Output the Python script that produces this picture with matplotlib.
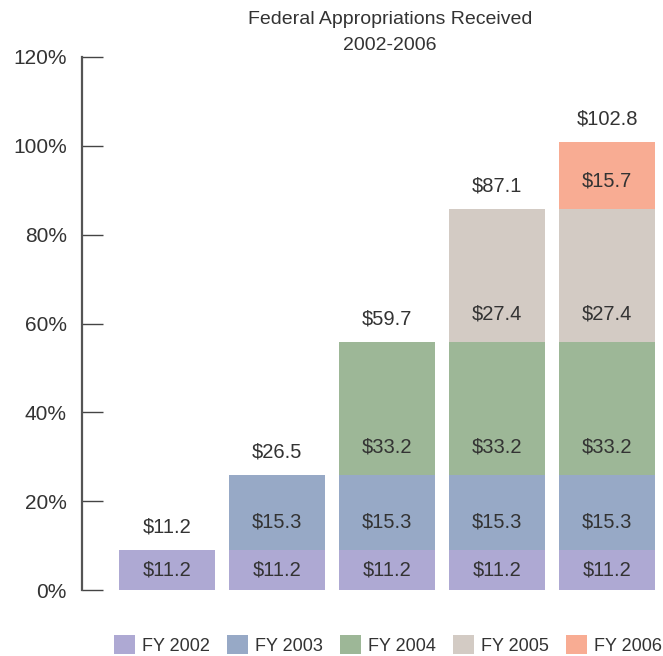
import matplotlib
matplotlib.use("Agg")
import matplotlib.pyplot as plt
import numpy as np

plt.rcParams['font.family'] = ['Liberation Sans', 'DejaVu Sans']

years = ['FY 2002', 'FY 2003', 'FY 2004', 'FY 2005', 'FY 2006']
colors = ['#aea9d3', '#97a9c6', '#9db797', '#d3cbc4', '#f8ac93']

# segment heights (% of axis), one list per fiscal-year layer
seg_2002 = [9.0, 9.0, 9.0, 9.0, 9.0]
seg_2003 = [0, 16.9, 16.9, 16.9, 16.9]
seg_2004 = [0, 0, 30.0, 30.0, 30.0]
seg_2005 = [0, 0, 0, 29.9, 29.9]
seg_2006 = [0, 0, 0, 0, 15.1]

# dollar labels for each segment and bar totals
lab_2002 = ['$11.2'] * 5
lab_2003 = ['', '$15.3', '$15.3', '$15.3', '$15.3']
lab_2004 = ['', '', '$33.2', '$33.2', '$33.2']
lab_2005 = ['', '', '', '$27.4', '$27.4']
lab_2006 = ['', '', '', '', '$15.7']
totals = ['$11.2', '$26.5', '$59.7', '$87.1', '$102.8']

segs = [seg_2002, seg_2003, seg_2004, seg_2005, seg_2006]
labs = [lab_2002, lab_2003, lab_2004, lab_2005, lab_2006]

fig = plt.figure(figsize=(6.63, 6.56), dpi=100)
ax = fig.add_axes([82/663, 66/656, 581/663, 533/656])

x = np.arange(len(totals))
bottom = np.zeros(len(totals))
txt = '#333333'
for i in range(len(segs)):
    h = np.array(segs[i])
    ax.bar(x, h, 0.877, bottom=bottom, color=colors[i], label=years[i])
    for j in range(len(x)):
        if h[j] > 0:
            ax.text(x[j], bottom[j] + min(h[j]/2, 6.2), labs[i][j], ha='center', va='center',
                    fontsize=14.5, color=txt)
    bottom = bottom + h

for j in range(len(x)):
    ax.text(x[j], bottom[j] + 5.2, totals[j], ha='center', va='center', fontsize=14.5, color=txt)

ax.set_xlim(-0.773, 4.509)
ax.set_ylim(0, 120)
ax.set_yticks([0, 20, 40, 60, 80, 100, 120])
ax.set_yticklabels(['0%', '20%', '40%', '60%', '80%', '100%', '120%'])
ax.set_xticks([])
for s in ['top', 'right', 'bottom']:
    ax.spines[s].set_visible(False)
ax.spines['left'].set_color('#555555')
ax.spines['left'].set_linewidth(1.6)
ax.tick_params(axis='y', direction='in', length=15, width=1.0, color='#444444',
               pad=11, labelsize=15, labelcolor=txt)

fig.text(390/663, 1 - 20/656, 'Federal Appropriations Received', ha='center', va='center',
         fontsize=14, color=txt)
fig.text(390/663, 1 - 45/656, '2002-2006', ha='center', va='center', fontsize=14, color=txt)

fig.legend(loc='center', bbox_to_anchor=(388/663, 11/656), ncol=5, frameon=False,
           fontsize=13, handlelength=1.2, handleheight=1.2, handletextpad=0.4,
           columnspacing=0.9, labelcolor=txt)

fig.savefig('out.png', dpi=100)
